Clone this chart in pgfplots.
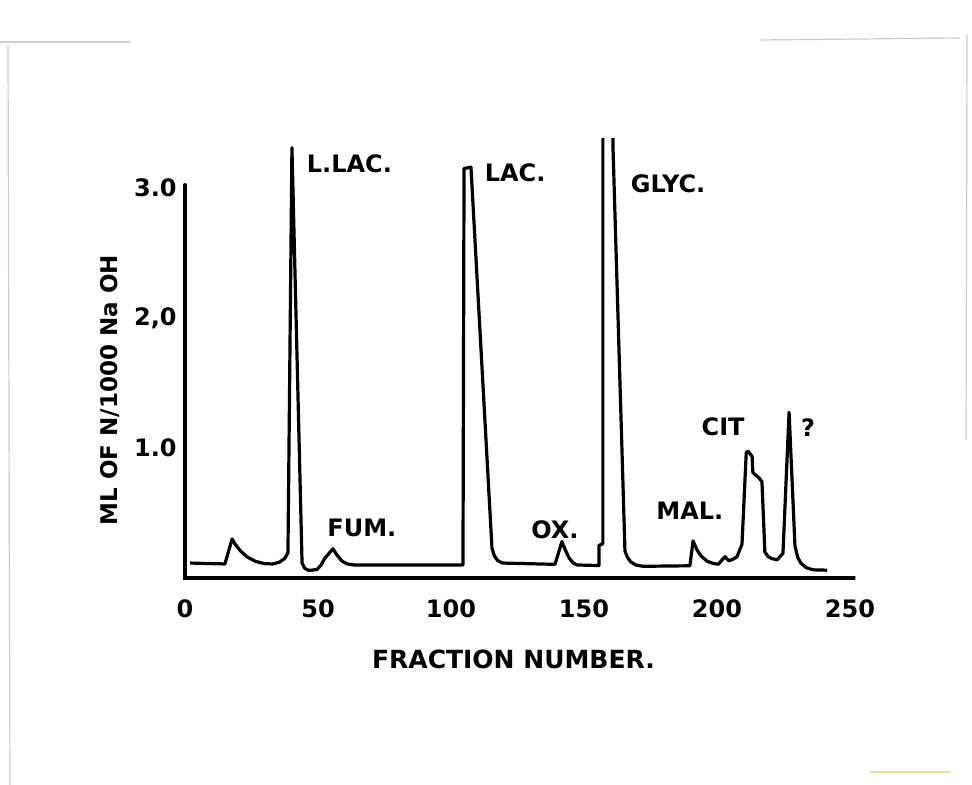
\documentclass[border=0pt]{standalone}
\usepackage{pgfplots}
\pgfplotsset{compat=1.18}
\usepackage{pgfplotstable}
\usepackage{fontspec}
\setmainfont{DejaVu Sans}
\pgfplotstableread{
x y
1.9 0.115
15.0 0.108
17.7 0.30
19.0 0.255
21.0 0.205
23.5 0.160
26.5 0.128
30.0 0.110
33.0 0.108
35.5 0.122
37.5 0.150
38.7 0.195
40.2 3.31
44.0 0.115
45.0 0.075
46.5 0.058
49.6 0.065
51.0 0.095
52.5 0.150
55.6 0.225
57.0 0.180
59.0 0.130
61.0 0.108
63.5 0.100
104.5 0.10
104.9 3.15
107.5 3.16
115.4 0.23
116.3 0.17
117.5 0.135
119.2 0.115
139.1 0.105
141.7 0.28
143.0 0.215
144.5 0.150
146.0 0.115
147.4 0.10
155.6 0.096
155.6 0.25
157.1 0.265
157.1 3.6
160.8 3.6
160.9 3.31
165.4 0.206
166.3 0.160
167.5 0.125
169.5 0.100
172.2 0.09
189.8 0.094
191.0 0.285
192.5 0.215
194.0 0.170
196.2 0.130
198.5 0.112
200.5 0.106
203.0 0.164
204.5 0.132
206.0 0.145
207.5 0.162
209.4 0.26
211.0 0.968
211.7 0.975
213.2 0.935
213.5 0.81
215.8 0.77
216.9 0.74
218.0 0.20
219.2 0.165
220.5 0.150
222.6 0.14
224.8 0.19
227.1 1.275
229.3 0.25
230.3 0.160
231.5 0.115
233.5 0.080
236.0 0.063
241.4 0.06
}\elution
\begin{document}
\begin{tikzpicture}
\path[use as bounding box] (-89.85pt,-100.25pt) rectangle (396.15pt,292.25pt);
\draw[gray!40, line width=0.6pt] (-89.85pt,271.25pt) -- (-24.85pt,271.25pt);
\draw[gray!40, line width=0.6pt] (290.15pt,272.25pt) -- (390.15pt,273.25pt);
\draw[gray!40, line width=0.6pt] (-85.85pt,269.75pt) -- (-84.85pt,-100.25pt);
\draw[gray!40, line width=0.6pt] (393.65pt,274.75pt) -- (393.15pt,72.25pt);
\draw[yellow!60!gray!60, line width=0.8pt] (345.15pt,-93.75pt) -- (385.15pt,-93.75pt);
\begin{axis}[
  at={(0,0)}, anchor=south west,
  scale only axis, width=337.8pt, height=222.95pt,
  xmin=-2, xmax=252, ymin=-0.05, ymax=3.38,
  axis line style={draw=none},
  clip mode=individual,
  major tick length=0pt,
  xtick={0,50,100,150,200,250},
  xticklabels={0,50,100,150,200,250},
  ytick={1,2,3},
  yticklabels={1.0,{2,0},3.0},
  /pgf/number format/assume math mode=true,
  tick label style={font=\bfseries\fontsize{12}{14}\selectfont},
  xticklabel style={yshift=-4pt},
  yticklabel style={xshift=2pt},
  xlabel={FRACTION NUMBER.},
  ylabel={ML OF N/1000 Na OH},
  xlabel style={font=\bfseries\fontsize{12.5}{15}\selectfont, at={(axis description cs:0.494,-0.169)}, anchor=center},
  ylabel style={font=\bfseries\fontsize{11.5}{14}\selectfont, at={(axis description cs:-0.103,0.436)}, anchor=center, rotate=0},
]
\addplot[black, line width=2.4pt, line cap=round] coordinates {(0,3.02) (0,0) (252,0)};
\addplot[black, line width=1.6pt, line join=round] table[x=x,y=y] {\elution};
\begin{scope}[font=\bfseries\fontsize{12}{15}\selectfont]
\node at (axis cs:61.8,3.19) {L.LAC.};
\node at (axis cs:124.1,3.12) {LAC.};
\node at (axis cs:181.6,3.03) {GLYC.};
\node at (axis cs:66.5,0.385) {FUM.};
\node at (axis cs:139.1,0.37) {OX.};
\node at (axis cs:189.8,0.52) {MAL.};
\node at (axis cs:202.3,1.16) {CIT};
\node at (axis cs:234.2,1.16) {?};
\end{scope}
\end{axis}
\end{tikzpicture}
\end{document}
